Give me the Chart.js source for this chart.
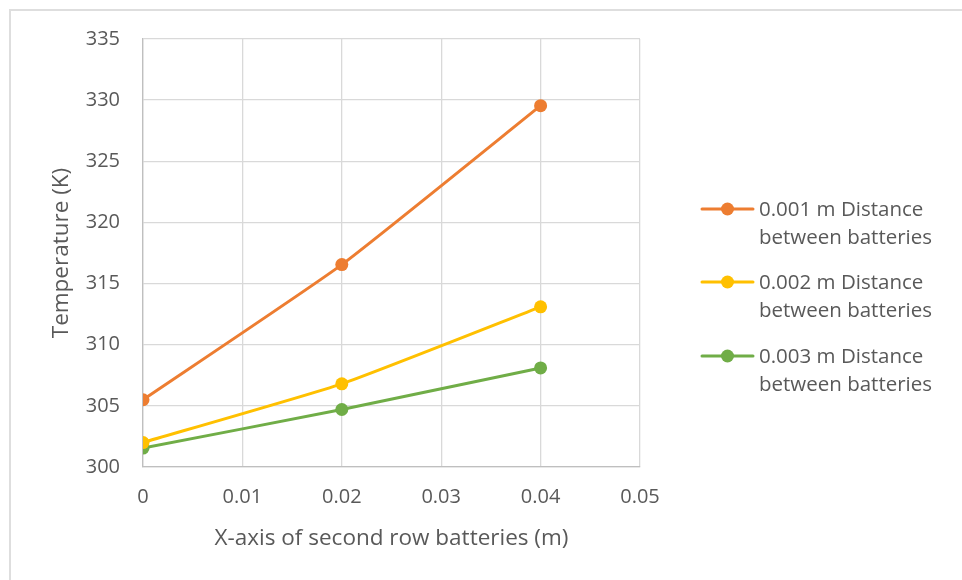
<!DOCTYPE html>
<html>
<head>
<meta charset="utf-8">
<script src="https://cdn.jsdelivr.net/npm/chart.js@4.4.0/dist/chart.umd.min.js"></script>
<style>
  html, body { margin: 0; padding: 0; background: #ffffff; }
  #wrap { position: relative; width: 962px; height: 580px; overflow: hidden; }
  #frame { position: absolute; left: 9px; top: 9px; width: 980px; height: 600px; border: 2px solid #dedede; box-sizing: border-box; }
  canvas { position: absolute; left: 0; top: 0; }
</style>
</head>
<body>
<div id="wrap">
  <div id="frame"></div>
  <canvas id="chart" width="962" height="580"></canvas>
</div>
<script>
// Position along the second battery row (m)
const xPositions = [0, 0.02, 0.04];

// Temperature (K) for each battery spacing
const temp001 = [305.5, 316.55, 329.55];
const temp002 = [302.0, 306.8, 313.1];
const temp003 = [301.55, 304.7, 308.1];

const seriesNames = [
  ['0.001 m Distance', 'between batteries'],
  ['0.002 m Distance', 'between batteries'],
  ['0.003 m Distance', 'between batteries']
];
const seriesColors = ['#ED7D31', '#FFC000', '#70AD47'];

const xTicks = [0, 0.01, 0.02, 0.03, 0.04, 0.05];
const yTicks = [300, 305, 310, 315, 320, 325, 330, 335];

const FONT = '"Open Sans", "Liberation Sans", sans-serif';
const TEXT = '#595959';

function toPoints(ys) {
  return xPositions.map((x, i) => ({ x: x, y: ys[i] }));
}

const datasets = [temp001, temp002, temp003].map((ys, i) => ({
  label: seriesNames[i].join(' '),
  data: toPoints(ys),
  showLine: true,
  borderColor: seriesColors[i],
  backgroundColor: seriesColors[i],
  borderWidth: 3,
  pointRadius: 6.5,
  pointHoverRadius: 6.5,
  pointBorderWidth: 0,
  tension: 0.15
}));

// Two-line legend on the right side
const sideLegend = {
  id: 'sideLegend',
  afterDraw(chart) {
    const ctx = chart.ctx;
    const rows = [209, 282, 356];
    ctx.save();
    chart.data.datasets.forEach((ds, i) => {
      const y = rows[i];
      ctx.strokeStyle = ds.borderColor;
      ctx.lineWidth = 3;
      ctx.lineCap = 'round';
      ctx.beginPath();
      ctx.moveTo(702, y);
      ctx.lineTo(753, y);
      ctx.stroke();
      ctx.fillStyle = ds.backgroundColor;
      ctx.beginPath();
      ctx.arc(727.5, y, 6.5, 0, Math.PI * 2);
      ctx.fill();
      ctx.fillStyle = TEXT;
      ctx.font = '20.5px ' + FONT;
      ctx.textAlign = 'left';
      ctx.textBaseline = 'middle';
      seriesNames[i].forEach((line, k) => {
        ctx.fillText(line, 759, y + 1 + k * 28);
      });
    });
    ctx.restore();
  }
};

new Chart(document.getElementById('chart'), {
  type: 'scatter',
  data: { datasets: datasets },
  options: {
    responsive: false,
    animation: false,
    layout: { padding: { left: 48, top: 39, right: 322, bottom: 28 } },
    plugins: {
      legend: { display: false },
      tooltip: { enabled: false }
    },
    scales: {
      x: {
        type: 'linear',
        min: 0,
        max: 0.05,
        afterBuildTicks(scale) { scale.ticks = xTicks.map(v => ({ value: v })); },
        afterFit(scale) { scale.height = 85; },
        ticks: {
          color: TEXT,
          font: { family: FONT, size: 20 },
          padding: 18,
          callback: v => String(+v.toFixed(2))
        },
        grid: { color: '#d9d9d9', lineWidth: 1.3, drawTicks: false },
        border: { color: '#bfbfbf', width: 1.3 },
        title: {
          display: true,
          text: 'X-axis of second row batteries (m)',
          color: TEXT,
          font: { family: FONT, size: 22.5 },
          padding: { top: 0, bottom: 0 }
        }
      },
      y: {
        type: 'linear',
        min: 300,
        max: 335,
        afterBuildTicks(scale) { scale.ticks = yTicks.map(v => ({ value: v })); },
        afterFit(scale) { scale.width = 95; },
        ticks: {
          color: TEXT,
          font: { family: FONT, size: 20 },
          padding: 23
        },
        grid: { color: '#d9d9d9', lineWidth: 1.3, drawTicks: false },
        border: { color: '#bfbfbf', width: 1.3 },
        title: {
          display: true,
          text: 'Temperature (K)',
          color: TEXT,
          font: { family: FONT, size: 22.5 },
          padding: { top: 0, bottom: 0 }
        }
      }
    }
  },
  plugins: [sideLegend]
});
</script>
</body>
</html>
